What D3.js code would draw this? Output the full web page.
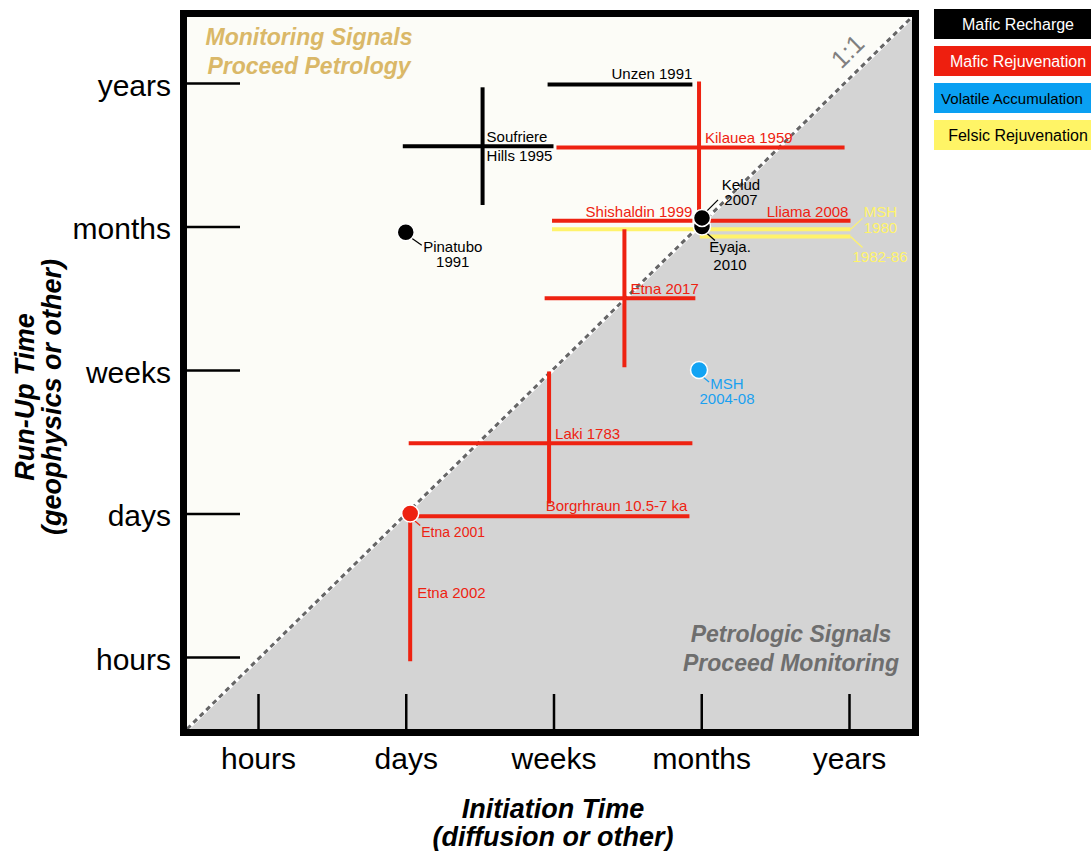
<!DOCTYPE html>
<html>
<head>
<meta charset="utf-8">
<script src="https://cdn.jsdelivr.net/npm/d3@7"></script>
<style>
  body { margin: 0; background: #fff; }
  text { font-family: "Liberation Sans", Arial, Helvetica, sans-serif; }
</style>
</head>
<body>
<div id="chart"></div>
<script>
// time classes on both axes (0 = hours ... 4 = years)
const timeLabels = ["hours", "days", "weeks", "months", "years"];
const groups = ["Mafic Recharge", "Mafic Rejuvenation", "Volatile Accumulation", "Felsic Rejuvenation"];

// horizontal bars: range of initiation time at a given run-up time
const initRanges = [
  { name: "Unzen 1991",          group: 0, from: 1.96, to: 2.94, runup: 3.99 },
  { name: "Soufriere Hills 1995", group: 0, from: 0.98, to: 2.00, runup: 3.56 },
  { name: "Kilauea 1959",        group: 1, from: 2.02, to: 3.97, runup: 3.55 },
  { name: "Shishaldin 1999",     group: 1, from: 1.99, to: 2.94, runup: 3.04 },
  { name: "Lliama 2008",         group: 1, from: 3.03, to: 4.01, runup: 3.04 },
  { name: "MSH 1980",            group: 3, from: 1.99, to: 4.01, runup: 2.98 },
  { name: "MSH 1982-86",         group: 3, from: 2.99, to: 4.01, runup: 2.93 },
  { name: "Etna 2017",           group: 1, from: 1.94, to: 2.96, runup: 2.50 },
  { name: "Laki 1783",           group: 1, from: 1.02, to: 2.94, runup: 1.49 },
  { name: "Borgrhraun 10.5-7 ka", group: 1, from: 1.03, to: 2.92, runup: 0.98 }
];

// vertical bars: range of run-up time at a given initiation time
const runupRanges = [
  { name: "Soufriere Hills 1995", group: 0, init: 1.52, from: 3.15, to: 3.97 },
  { name: "Kilauea 1959",        group: 1, init: 2.985, from: 3.04, to: 4.01 },
  { name: "Etna 2017",           group: 1, init: 2.48, from: 2.02, to: 2.98 },
  { name: "Laki 1783",           group: 1, init: 1.97, from: 1.07, to: 1.99 },
  { name: "Etna 2002",           group: 1, init: 1.03, from: -0.03, to: 1.00 }
];

// single estimates
const points = [
  { name: "Pinatubo 1991", group: 0, init: 1.00, runup: 2.96 },
  { name: "Eyaja. 2010",   group: 0, init: 3.005, runup: 3.00 },
  { name: "Kelud 2007",    group: 0, init: 3.005, runup: 3.06 },
  { name: "MSH 2004-08",   group: 2, init: 2.985, runup: 2.00 },
  { name: "Etna 2001",     group: 1, init: 1.03, runup: 1.00 }
];

// label placement (anchor in data units, offsets in px)
const labels = [
  { lines: ["Unzen 1991"], group: 0, at: [2.94, 3.99], dx: 0, dy: -5, anchor: "end" },
  { lines: ["Soufriere", "Hills 1995"], group: 0, at: [1.52, 3.56], dx: 4, dy: -4, gap: 19, anchor: "start" },
  { lines: ["Kilauea 1959"], group: 1, at: [2.985, 3.55], dx: 6, dy: -5, anchor: "start" },
  { lines: ["Kelud", "2007"], group: 0, at: [3.005, 3.06], dx: 39, dy: -28, gap: 15, anchor: "middle", leader: [3, -5, 16, -18] },
  { lines: ["Eyaja.", "2010"], group: 0, at: [3.005, 3.00], dx: 28, dy: 25, gap: 18, anchor: "middle", leader: [4, 6, 13, 14] },
  { lines: ["Shishaldin 1999"], group: 1, at: [2.94, 3.04], dx: 0, dy: -4, anchor: "end" },
  { lines: ["Lliama 2008"], group: 1, at: [4.01, 3.04], dx: -2, dy: -4, anchor: "end" },
  { lines: ["MSH", "1980"], group: 3, at: [4.01, 2.98], dx: 30, dy: -12, gap: 16, anchor: "middle", leader: [0, 0, 12, -11] },
  { lines: ["1982-86"], group: 3, at: [4.01, 2.93], dx: 2, dy: 25, anchor: "start", leader: [0, 0, 12, 11] },
  { lines: ["Etna 2017"], group: 1, at: [2.48, 2.50], dx: 6, dy: -4, anchor: "start" },
  { lines: ["MSH", "2004-08"], group: 2, at: [2.985, 2.00], dx: 28, dy: 19, gap: 15, anchor: "middle", leader: [4, 7, 10, 12] },
  { lines: ["Laki 1783"], group: 1, at: [1.97, 1.49], dx: 6, dy: -4, anchor: "start" },
  { lines: ["Borgrhraun 10.5-7 ka"], group: 1, at: [2.92, 0.98], dx: -2, dy: -5, anchor: "end" },
  { lines: ["Etna 2001"], group: 1, at: [1.03, 1.00], dx: 11, dy: 23, anchor: "start", size: 14, leader: [3, 6, 10, 12] },
  { lines: ["Etna 2002"], group: 1, at: [1.03, 0.50], dx: 7, dy: 13, anchor: "start" },
  { lines: ["Pinatubo", "1991"], group: 0, at: [1.00, 2.96], dx: 47, dy: 20, gap: 15, anchor: "middle", leader: [6, 6, 16, 13] }
];

const barColor = ["#000000", "#ee2211", "#12a3f3", "#fff36b"];
const legendFill = ["#000000", "#ee1f0f", "#0aa0f2", "#fff466"];
const legendText = ["#ffffff", "#ffffff", "#000000", "#000000"];
const textColor = ["#000000", "#ee2211", "#1aa0f0", "#fff36b"];

const width = 1091, height = 851;
const frame = { left: 187, right: 912, top: 17, bottom: 729 };

const svg = d3.select("#chart").append("svg")
    .attr("width", width)
    .attr("height", height);

const x = d3.scaleLinear().domain([0, 4]).range([258, 849]);
const y = d3.scaleLinear().domain([0, 4]).range([657, 83]);

// background: off-white above 1:1, grey below
svg.append("rect")
    .attr("x", frame.left).attr("y", frame.top)
    .attr("width", frame.right - frame.left)
    .attr("height", frame.bottom - frame.top)
    .attr("fill", "#fcfcf7");

svg.append("path")
    .attr("d", `M${frame.left},${frame.bottom}L${frame.right},${frame.top}L${frame.right},${frame.bottom}Z`)
    .attr("fill", "#d4d4d4");

// 1:1 line
svg.append("line")
    .attr("x1", frame.left).attr("y1", frame.bottom)
    .attr("x2", frame.right).attr("y2", frame.top)
    .attr("stroke", "#fff").attr("stroke-width", 4);
svg.append("line")
    .attr("x1", frame.left).attr("y1", frame.bottom)
    .attr("x2", frame.right).attr("y2", frame.top)
    .attr("stroke", "#666").attr("stroke-width", 3)
    .attr("stroke-dasharray", "5,4");

const diagAngle = Math.atan2(frame.top - frame.bottom, frame.right - frame.left) * 180 / Math.PI;
const oneX = 862;
const oneY = frame.bottom + (oneX - frame.left) * (frame.top - frame.bottom) / (frame.right - frame.left);
svg.append("text")
    .attr("transform", `translate(${oneX},${oneY}) rotate(${diagAngle})`)
    .attr("dy", -12)
    .attr("text-anchor", "middle")
    .attr("font-size", 25)
    .attr("fill", "#808080")
    .text("1:1");

// region notes
const noteTop = svg.append("text")
    .attr("text-anchor", "middle")
    .attr("font-size", 23).attr("font-weight", "bold").attr("font-style", "italic")
    .attr("fill", "#dab868");
noteTop.append("tspan").attr("x", 309).attr("y", 45).text("Monitoring Signals");
noteTop.append("tspan").attr("x", 309).attr("y", 74).text("Proceed Petrology");

const noteBottom = svg.append("text")
    .attr("text-anchor", "middle")
    .attr("font-size", 23).attr("font-weight", "bold").attr("font-style", "italic")
    .attr("fill", "#6e6e6e");
noteBottom.append("tspan").attr("x", 791).attr("y", 642).text("Petrologic Signals");
noteBottom.append("tspan").attr("x", 791).attr("y", 671).text("Proceed Monitoring");

// axes
const yAxis = svg.append("g")
    .attr("transform", `translate(${frame.left},0)`)
    .call(d3.axisLeft(y).tickValues([0, 1, 2, 3, 4])
        .tickFormat(i => timeLabels[i]).tickSize(-53).tickPadding(16));

const xAxis = svg.append("g")
    .attr("transform", `translate(0,${frame.bottom})`)
    .call(d3.axisBottom(x).tickValues([0, 1, 2, 3, 4])
        .tickFormat(i => timeLabels[i]).tickSize(-35).tickPadding(19));

[yAxis, xAxis].forEach(ax => {
    ax.select(".domain").remove();
    ax.selectAll(".tick line").attr("stroke", "#000").attr("stroke-width", 2.5);
    ax.selectAll(".tick text")
        .attr("font-size", 30)
        .attr("font-family", "'Liberation Sans', Arial, sans-serif")
        .attr("fill", "#000");
});
yAxis.selectAll(".tick text").attr("dy", "0.4em");

// frame
svg.append("rect")
    .attr("x", frame.left - 3.5).attr("y", frame.top - 3.5)
    .attr("width", frame.right - frame.left + 7)
    .attr("height", frame.bottom - frame.top + 7)
    .attr("fill", "none")
    .attr("stroke", "#000").attr("stroke-width", 7);

// axis titles
const xTitle = svg.append("text")
    .attr("text-anchor", "middle")
    .attr("font-size", 27).attr("font-weight", "bold").attr("font-style", "italic");
xTitle.append("tspan").attr("x", 553).attr("y", 818).text("Initiation Time");
xTitle.append("tspan").attr("x", 553).attr("y", 846).text("(diffusion or other)");

const yTitle = svg.append("text")
    .attr("transform", "translate(0,397) rotate(-90)")
    .attr("text-anchor", "middle")
    .attr("font-size", 27).attr("font-weight", "bold").attr("font-style", "italic");
yTitle.append("tspan").attr("x", 0).attr("y", 34).text("Run-Up Time");
yTitle.append("tspan").attr("x", 0).attr("y", 61).text("(geophysics or other)");

// bars
const marks = svg.append("g");
marks.selectAll(".hbar")
    .data(initRanges)
    .enter().append("line")
    .attr("class", "hbar")
    .attr("x1", d => x(d.from)).attr("x2", d => x(d.to))
    .attr("y1", d => y(d.runup)).attr("y2", d => y(d.runup))
    .attr("stroke", d => barColor[d.group])
    .attr("stroke-width", 4);

marks.selectAll(".vbar")
    .data(runupRanges)
    .enter().append("line")
    .attr("class", "vbar")
    .attr("x1", d => x(d.init)).attr("x2", d => x(d.init))
    .attr("y1", d => y(d.from)).attr("y2", d => y(d.to))
    .attr("stroke", d => barColor[d.group])
    .attr("stroke-width", 4);

// leader lines
svg.append("g").selectAll("line")
    .data(labels.filter(d => d.leader))
    .enter().append("line")
    .attr("x1", d => x(d.at[0]) + d.leader[0])
    .attr("y1", d => y(d.at[1]) + d.leader[1])
    .attr("x2", d => x(d.at[0]) + d.leader[2])
    .attr("y2", d => y(d.at[1]) + d.leader[3])
    .attr("stroke", d => textColor[d.group])
    .attr("stroke-width", 1.2);

// points
svg.append("g").selectAll("circle")
    .data(points)
    .enter().append("circle")
    .attr("cx", d => x(d.init))
    .attr("cy", d => y(d.runup))
    .attr("r", 8.5)
    .attr("fill", d => barColor[d.group])
    .attr("stroke", "#fff")
    .attr("stroke-width", 1.5);

// labels
const lab = svg.append("g").selectAll("text")
    .data(labels)
    .enter().append("text")
    .attr("text-anchor", d => d.anchor)
    .attr("font-size", d => d.size || 15)
    .attr("fill", d => textColor[d.group]);

lab.each(function(d) {
    const t = d3.select(this);
    d.lines.forEach((ln, i) => {
        t.append("tspan")
            .attr("x", x(d.at[0]) + d.dx)
            .attr("y", y(d.at[1]) + d.dy + i * (d.gap || 0))
            .text(ln);
    });
});

// legend (boxes run off the right edge)
const legend = svg.append("g").selectAll("g")
    .data(groups)
    .enter().append("g")
    .attr("transform", (d, i) => `translate(934,${9 + i * 37})`);

legend.append("rect")
    .attr("width", 170).attr("height", 30)
    .attr("fill", (d, i) => legendFill[i]);

legend.append("text")
    .attr("x", (d, i) => i === 2 ? 78 : 84).attr("y", 21)
    .attr("text-anchor", "middle")
    .attr("font-size", (d, i) => i === 2 ? 15 : 16)
    .attr("fill", (d, i) => legendText[i])
    .text(d => d);
</script>
</body>
</html>
